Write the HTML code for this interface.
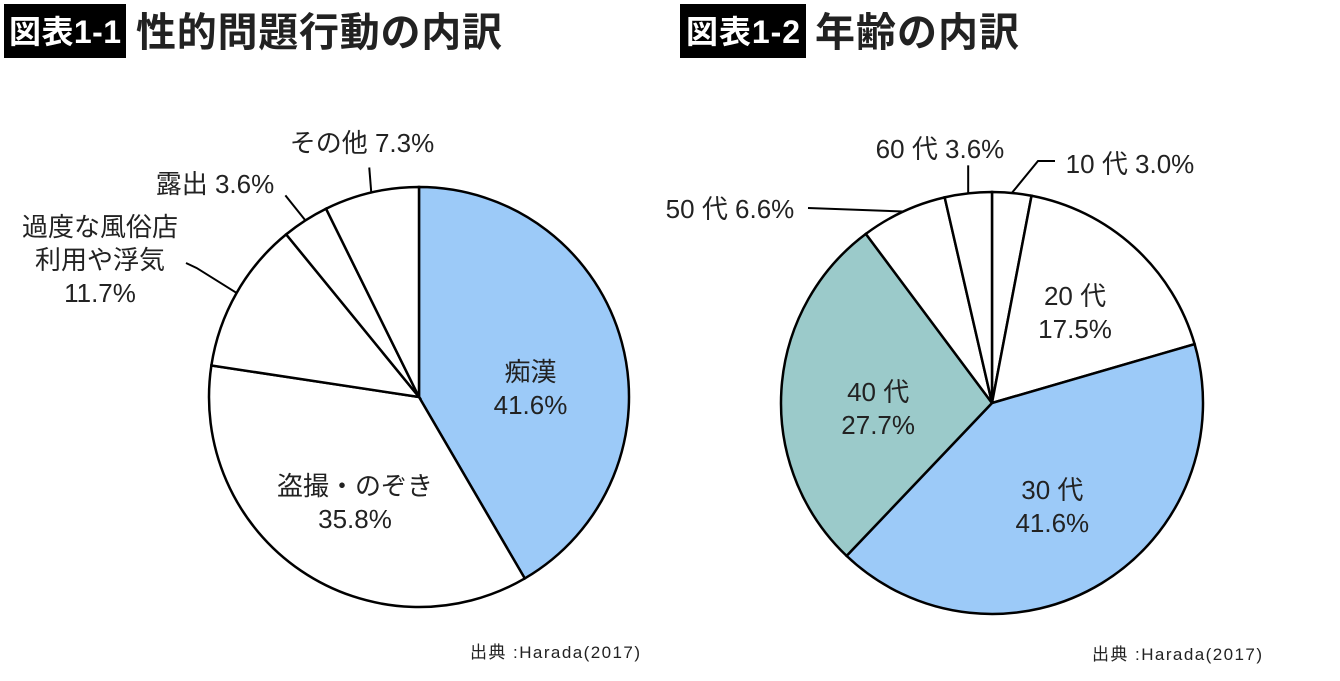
<!DOCTYPE html>
<html><head><meta charset="utf-8">
<style>
body{margin:0;background:#fff;width:1340px;height:676px;overflow:hidden;font-family:"Liberation Sans","Noto Sans CJK JP",sans-serif}
svg text{font-family:"Liberation Sans","Noto Sans CJK JP",sans-serif}
</style></head>
<body>
<svg id="c" width="1340" height="676">
  <rect x="4" y="4" width="122" height="54" fill="#000"/>
  <text x="65" y="43" font-size="32" font-weight="bold" fill="#fff" text-anchor="middle" textLength="112">図表1-1</text>
  <text x="136" y="46" font-size="40" font-weight="bold" fill="#222" textLength="366">性的問題行動の内訳</text>
  <rect x="680" y="4" width="126" height="54" fill="#000"/>
  <text x="743" y="43" font-size="32" font-weight="bold" fill="#fff" text-anchor="middle" textLength="114">図表1-2</text>
  <text x="815" y="46" font-size="40" font-weight="bold" fill="#222" textLength="204">年齢の内訳</text>
  <text x="470" y="658" font-size="17" fill="#222" textLength="170">出典 :Harada(2017)</text>
  <text x="1092" y="660" font-size="17" fill="#222" textLength="170">出典 :Harada(2017)</text>
</svg>
<script>
const leftCats=["痴漢","盗撮・のぞき","過度な風俗店利用や浮気","露出","その他"];
const leftVals=[41.6,35.8,11.7,3.6,7.3];
const leftColors=["#9ccaf8","#fff","#fff","#fff","#fff"];
const rightCats=["10 代","20 代","30 代","40 代","50 代","60 代"];
const rightVals=[3.0,17.5,41.6,27.7,6.6,3.6];
const rightColors=["#fff","#fff","#9ccaf8","#9bcaca","#fff","#fff"];
const svg=document.getElementById('c');
const NS="http://www.w3.org/2000/svg";
function mk(t,a){const e=document.createElementNS(NS,t);for(const k in a)e.setAttribute(k,a[k]);svg.appendChild(e);return e;}
function pt(cx,cy,r,f){const a=f*2*Math.PI;return [cx+r*Math.sin(a),cy-r*Math.cos(a)];}
function fmt(v){return v.toFixed(1)+"%";}
function pie(cx,cy,r,vals,colors,prefix){
  const tot=vals.reduce((a,b)=>a+b,0);let acc=0;const mids=[];
  vals.forEach((v,i)=>{
    const f0=acc/tot,f1=(acc+v)/tot;acc+=v;
    const p0=pt(cx,cy,r,f0),p1=pt(cx,cy,r,f1);
    const large=(f1-f0)>0.5?1:0;
    const p=mk('path',{d:`M${cx},${cy}L${p0[0]},${p0[1]}A${r},${r} 0 ${large} 1 ${p1[0]},${p1[1]}Z`,fill:colors[i],stroke:'#000','stroke-width':2.5});
    
    
    mids.push((f0+f1)/2);
  });
  return mids;
}
function txt(x,y,lines,name){
  lines.forEach((l,j)=>{
    const t=mk('text',{x:x,y:y+j*33,'font-size':26,fill:'#222','text-anchor':'middle'});
    t.textContent=l;
    
    
  });
}
function line(pts,name){
  const l=mk('polyline',{points:pts.map(p=>p.join(',')).join(' '),fill:'none',stroke:'#000','stroke-width':2});
  
  
}
const L={cx:419,cy:397,r:210};
const lm=pie(L.cx,L.cy,L.r,leftVals,leftColors,'left');
function inside(c,m,k){return pt(c.cx,c.cy,c.r*k,m);}
let p=inside(L,lm[0],0.55);txt(p[0],p[1]+14,[leftCats[0],fmt(leftVals[0])],'label-chikan');
p=inside(L,lm[1],0.5);txt(p[0]-5,p[1]+11,[leftCats[1],fmt(leftVals[1])],'label-tousatsu');
let e=pt(L.cx,L.cy,L.r,lm[2]);line([e,[e[0]-40,e[1]-25],[186,263]],'leader-fuzoku');
txt(100,236,["過度な風俗店","利用や浮気",fmt(leftVals[2])],'label-fuzoku');
e=pt(L.cx,L.cy,L.r,lm[3]);line([e,[e[0]-20,e[1]-25]],'leader-roshutsu');
txt(215,193,[leftCats[3]+" "+fmt(leftVals[3])],'label-roshutsu');
e=pt(L.cx,L.cy,L.r,lm[4]);line([e,[e[0]-2,e[1]-25]],'leader-other');
txt(362,152,[leftCats[4]+" "+fmt(leftVals[4])],'label-other');
const R={cx:992,cy:403,r:211};
const rm=pie(R.cx,R.cy,R.r,rightVals,rightColors,'right');
e=pt(R.cx,R.cy,R.r,rm[0]);line([e,[1038,161],[1055,161]],'leader-10s');
txt(1130,173,[rightCats[0]+" "+fmt(rightVals[0])],'label-10s');
p=inside(R,rm[1],0.62);txt(p[0]-5,p[1]-1,[rightCats[1],fmt(rightVals[1])],'label-20s');
p=inside(R,rm[2],0.55);txt(p[0],p[1]-3,[rightCats[2],fmt(rightVals[2])],'label-30s');
p=inside(R,rm[3],0.55);txt(p[0]+2,p[1]+5,[rightCats[3],fmt(rightVals[3])],'label-40s');
e=pt(R.cx,R.cy,R.r,rm[4]);line([e,[808,208]],'leader-50s');
txt(730,218,[rightCats[4]+" "+fmt(rightVals[4])],'label-50s');
e=pt(R.cx,R.cy,R.r,rm[5]);line([e,[e[0],e[1]-28]],'leader-60s');
txt(940,158,[rightCats[5]+" "+fmt(rightVals[5])],'label-60s');
</script>
</body></html>
